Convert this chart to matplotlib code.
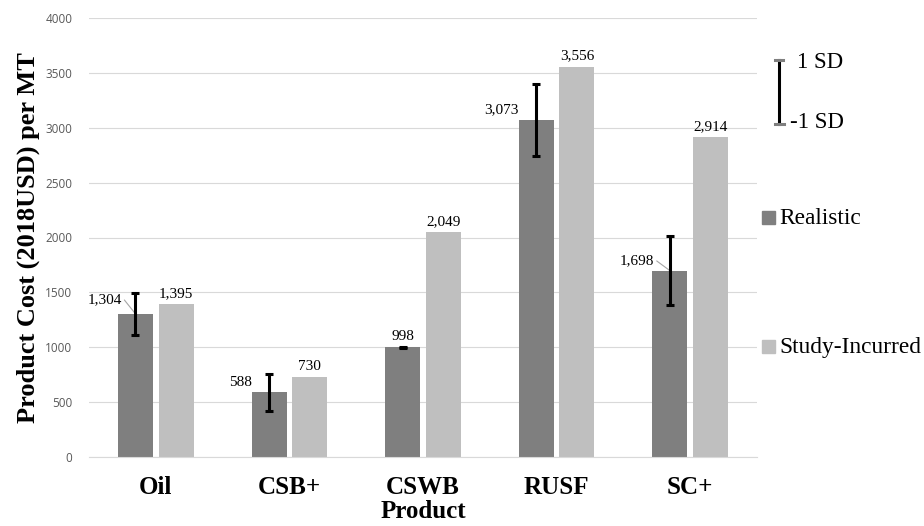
import matplotlib.pyplot as plt
import numpy as np
from matplotlib.lines import Line2D
from matplotlib.patches import Rectangle

products = ["Oil", "CSB+", "CSWB", "RUSF", "SC+"]
realistic = [1304, 588, 998, 3073, 1698]
realistic_sd = [192, 170, 5, 326, 313]
study_incurred = [1395, 730, 2049, 3556, 2914]

DARK = "#7f7f7f"
LIGHT = "#bfbfbf"
SERIF = "Liberation Serif"

# label placement for the Realistic bars: (dx, dy) in points, leader line?
real_label_layout = [(-10, 10, True), (-12, 7, False), (0, 3, False),
                     (-13, 7, False), (-11.5, 7, True)]

fig = plt.figure(figsize=(9.24, 5.26), dpi=100)
ax = fig.add_axes([89 / 924, 1 - 457 / 526, (757 - 89) / 924, (457 - 18) / 526])

x = np.arange(len(products))
w = 0.262
off = 0.152
ax.bar(x - off, realistic, w, color=DARK, zorder=2)
ax.bar(x + off, study_incurred, w, color=LIGHT, zorder=2)
ax.errorbar(x - off, realistic, yerr=realistic_sd, fmt="none", ecolor="black",
            elinewidth=2.2, capsize=3, capthick=2.2, zorder=3)

for xi, v in zip(x + off, study_incurred):
    ax.annotate(f"{v:,}", (xi, v), xytext=(0, 3), textcoords="offset points",
                ha="center", va="bottom", fontsize=11, family=SERIF)

for xi, v, (dx, dy, lead) in zip(x - off, realistic, real_label_layout):
    if dx == 0:
        ax.annotate(f"{v:,}", (xi, v), xytext=(0, dy), textcoords="offset points",
                    ha="center", va="bottom", fontsize=11, family=SERIF)
        continue
    ax.annotate(f"{v:,}", (xi, v), xytext=(dx, dy), textcoords="offset points",
                ha="right", va="center", fontsize=11, family=SERIF)
    if lead:
        ax.annotate("", (xi, v), xytext=(dx + 2, dy), textcoords="offset points",
                    arrowprops=dict(arrowstyle="-", color="#a6a6a6", lw=0.8,
                                    shrinkA=0, shrinkB=0),
                    zorder=2.5)

ax.set_xlim(-0.5, 4.5)
ax.set_ylim(0, 4000)
ax.set_yticks(np.arange(0, 4001, 500))
ax.yaxis.grid(True, color="#d9d9d9", lw=0.8, zorder=0)
ax.set_axisbelow(True)
for s in ["top", "right", "left"]:
    ax.spines[s].set_visible(False)
ax.spines["bottom"].set_color("#d9d9d9")
ax.tick_params(axis="y", length=0, labelsize=8.5, labelcolor="#595959", pad=12)
ax.tick_params(axis="x", length=0, pad=14)
ax.set_xticks(x)
ax.set_xticklabels(products, fontsize=18, fontweight="bold", family=SERIF)
for t in ax.get_yticklabels():
    t.set_family("Open Sans")

ax.set_xlabel("Product", fontsize=18, fontweight="bold", family=SERIF)
ax.xaxis.set_label_coords(0.5, -0.097)
ax.set_ylabel("Product Cost (2018USD) per MT", fontsize=19, fontweight="bold",
              family=SERIF, labelpad=4)

# SD indicator
def fx(px):
    return px / 924


def fy(py):
    return 1 - py / 526


fig.add_artist(Line2D([fx(779), fx(779)], [fy(60), fy(124)], color="black", lw=2.2))
fig.add_artist(Line2D([fx(775), fx(783)], [fy(60), fy(60)], color="#7f7f7f", lw=2.2))
fig.add_artist(Line2D([fx(775), fx(784)], [fy(124), fy(124)], color="#7f7f7f", lw=2.2))
fig.text(fx(797), fy(62), "1 SD", fontsize=16.5, family=SERIF, va="center")
fig.text(fx(790), fy(123), "-1 SD", fontsize=16.5, family=SERIF, va="center")

# legend
for py, col, label in [(218, DARK, "Realistic"), (347, LIGHT, "Study-Incurred")]:
    fig.add_artist(Rectangle((fx(762), fy(py + 6)), 13 / 924, 13 / 526,
                             color=col, transform=fig.transFigure))
    fig.text(fx(779), fy(py), label, fontsize=16.8, family=SERIF, va="center")

fig.savefig("out.png", dpi=100)
